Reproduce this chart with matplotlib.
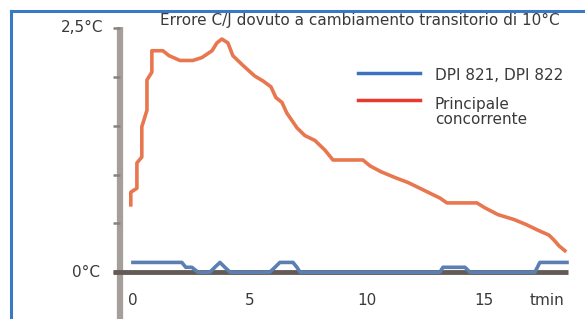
import matplotlib.pyplot as plt
from matplotlib.lines import Line2D

# curve (time in min, error in degC)
t_main = [-0.09, -0.09, 0.17, 0.17, 0.38, 0.38, 0.60, 0.60, 0.81, 0.81, 1.28, 1.54, 2.01, 2.56, 2.95,
          3.38, 3.59, 3.80, 4.06, 4.27, 4.70, 5.21, 5.56, 5.90, 6.11, 6.37, 6.58, 7.01, 7.35, 7.78,
          8.21, 8.55, 9.83, 10.13, 10.60, 11.20, 11.75, 12.18, 12.69, 13.12, 13.42, 14.70, 15.04,
          15.60, 16.28, 16.79, 17.31, 17.78, 17.99, 18.21, 18.46]
e_main = [0.69, 0.82, 0.86, 1.12, 1.18, 1.49, 1.66, 1.97, 2.05, 2.27, 2.27, 2.22, 2.17, 2.17, 2.20,
          2.27, 2.35, 2.39, 2.35, 2.22, 2.12, 2.01, 1.96, 1.90, 1.79, 1.74, 1.63, 1.48, 1.40, 1.35,
          1.25, 1.15, 1.15, 1.09, 1.03, 0.97, 0.92, 0.87, 0.81, 0.76, 0.71, 0.71, 0.66,
          0.59, 0.54, 0.49, 0.43, 0.38, 0.33, 0.27, 0.22]

t_dpi = [0, 2.09, 2.26, 2.52, 2.78, 3.29, 3.50, 3.72, 3.93, 4.15, 5.85, 6.07, 6.28, 6.84, 7.01, 7.14,
         13.12, 13.25, 14.19, 14.40, 17.18, 17.39, 18.55]
e_dpi = [0.10, 0.10, 0.05, 0.05, 0, 0, 0.05, 0.10, 0.05, 0, 0, 0.05, 0.10, 0.10, 0.05, 0,
         0, 0.05, 0.05, 0, 0, 0.10, 0.10]

x_ticks = [0, 5, 10, 15]
x_labels = ['0', '5', '10', '15']
y_ticks = [0, 0.5, 1.0, 1.5, 2.0, 2.5]

title = 'Errore C/J dovuto a cambiamento transitorio di 10°C'
leg_labels = ['DPI 821, DPI 822', 'Principale\nconcorrente']

txt = '#3a3a3a'
fig = plt.figure(figsize=(5.85, 3.19), dpi=100)
ax = fig.add_axes([0, 0, 1, 1])
ax.set_xlim(-5.68, 19.32)
ax.set_ylim(-0.48, 2.79)
ax.axis('off')

# axes drawn by hand
ax.plot([-0.56, -0.56], [-0.5, 2.51], color='#a69e9a', lw=4.5, solid_capstyle='butt', zorder=2)
for y in y_ticks:
    ax.plot([-0.85, -0.56], [y, y], color='#8a817d', lw=1.8, solid_capstyle='butt', zorder=2)
ax.plot([-0.85, 18.6], [0, 0], color='#645b58', lw=3.5, solid_capstyle='butt', zorder=3)

ax.plot(t_dpi, e_dpi, color='#5b7fb0', lw=2.6, zorder=4)
ax.plot(t_main, e_main, color='#e8774f', lw=2.6, zorder=5)

for x, lab in zip(x_ticks, x_labels):
    ax.text(x, -0.29, lab, ha='center', va='center', fontsize=11, color=txt)
ax.text(17.7, -0.29, 'tmin', ha='center', va='center', fontsize=11, color=txt)
ax.text(-1.28, 2.51, '2,5°C', ha='right', va='center', fontsize=11, color=txt)
ax.text(-1.41, 0, '0°C', ha='right', va='center', fontsize=11, color=txt)

fig.text(160/585, 1 - 20/319, title, ha='left', va='center', fontsize=11, color=txt)

# legend
for y, c, lab, yt in [(73, '#3c73be', leg_labels[0], 76), (100, '#e8392e', leg_labels[1], 112)]:
    fig.add_artist(Line2D([358/585, 420/585], [1 - y/319] * 2, color=c, lw=2.5))
    fig.text(435/585, 1 - yt/319, lab, ha='left', va='center', fontsize=11, color=txt,
             linespacing=0.95)

# blue frame
fc = '#3b78c4'
fig.add_artist(Line2D([11/585, 11/585], [0, 1 - 11/319], color=fc, lw=2.2))
fig.add_artist(Line2D([11/585, 1], [1 - 11/319] * 2, color=fc, lw=2.2))

fig.savefig('out.png', dpi=100)
